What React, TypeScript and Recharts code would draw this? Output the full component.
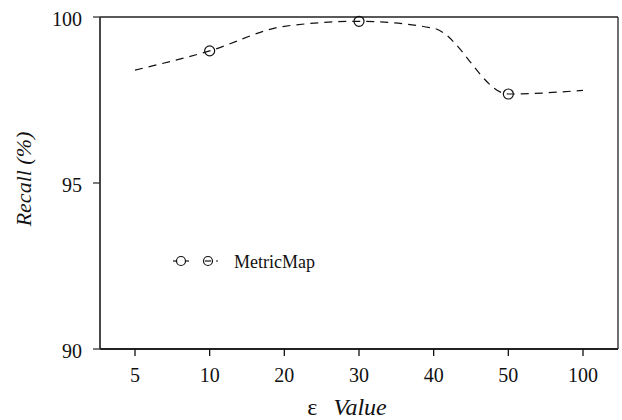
import { LineChart, Line, XAxis, YAxis, Legend, CartesianGrid } from "recharts";

const epsValues = ["5", "10", "20", "30", "40", "50", "100"];
const recallValues = [98.4, 98.98, 99.72, 99.87, 99.66, 97.68, 97.79];
const markedEps = ["10", "30", "50"];
const yTicks = [90, 95, 100];
const seriesName = "MetricMap";

const data = epsValues.map((eps, i) => ({ eps, recall: recallValues[i] }));

const serif = "'Liberation Serif', 'Times New Roman', serif";

const MarkerDot = (props: any) => {
  const { cx, cy, payload, index } = props;
  if (!markedEps.includes(payload.eps)) return <g key={`d${index}`} />;
  return (
    <circle key={`d${index}`} cx={cx} cy={cy} r={5} fill="none" stroke="#111" strokeWidth={1.2} />
  );
};

const LegendBox = () => (
  <svg width={160} height={26} style={{ display: "block" }}>
    <line x1={1} y1={12} x2={17} y2={12} stroke="#111" strokeWidth={1.2} />
    <circle cx={9} cy={12} r={4.5} fill="white" stroke="#111" strokeWidth={1.2} />
    <circle cx={36} cy={12} r={4.5} fill="none" stroke="#111" strokeWidth={1.2} />
    <line x1={33} y1={12} x2={39} y2={12} stroke="#111" strokeWidth={1.2} />
    <line x1={44} y1={12} x2={46} y2={12} stroke="#111" strokeWidth={1.2} />
    <text x={62} y={19} fontFamily={serif} fontSize={18} fill="#111">
      {seriesName}
    </text>
  </svg>
);

const XTick = (props: any) => {
  const { x, payload } = props;
  return (
    <text x={x} y={382} textAnchor="middle" fontFamily={serif} fontSize={20} fill="#111">
      {payload.value}
    </text>
  );
};

const YTick = (props: any) => {
  const { y, payload } = props;
  return (
    <text x={82} y={y + 9} textAnchor="end" fontFamily={serif} fontSize={20} fill="#111">
      {payload.value}
    </text>
  );
};

const XLabel = () => (
  <text x={347} y={415} textAnchor="middle" fontFamily={serif} fontSize={24} fill="#111">
    <tspan>ε</tspan>
    <tspan dx={16} fontStyle="italic">Value</tspan>
  </text>
);

const YLabel = (props: any) => {
  const { viewBox } = props;
  const cy = viewBox.y + viewBox.height / 2 - 4;
  return (
    <text
      x={31}
      y={cy}
      transform={`rotate(-90, 31, ${cy})`}
      textAnchor="middle"
      fontFamily={serif}
      fontSize={22}
      fontStyle="italic"
      fill="#111"
    >
      Recall (%)
    </text>
  );
};

export default function App() {
  return (
    <div style={{ position: "absolute", left: 0, top: 0, background: "#fff" }}>
      <LineChart width={622} height={420} data={data} margin={{ top: 17, right: 4, bottom: 0, left: 0 }}>
        <CartesianGrid
          stroke="#222"
          strokeWidth={1.3}
          horizontalCoordinatesGenerator={({ offset }: any) => [offset.top, offset.top + offset.height]}
          verticalCoordinatesGenerator={({ offset }: any) => [offset.left, offset.left + offset.width]}
        />
        <XAxis
          dataKey="eps"
          height={71}
          padding={{ left: 35, right: 35 }}
          tick={<XTick />}
          tickSize={7}
          stroke="#111"
          strokeWidth={1.3}
          label={<XLabel />}
        />
        <YAxis
          domain={[90, 100]}
          ticks={yTicks}
          width={100}
          tick={<YTick />}
          tickSize={7}
          stroke="#333"
          strokeWidth={1.3}
          label={<YLabel />}
        />
        <Legend
          content={<LegendBox />}
          layout="horizontal"
          verticalAlign="middle"
          align="center"
          wrapperStyle={{ position: "absolute", left: 172, top: 249, width: "auto" }}
        />
        <Line
          type="monotone"
          dataKey="recall"
          name={seriesName}
          stroke="#111"
          strokeWidth={1.2}
          strokeDasharray="8 6"
          dot={<MarkerDot />}
          activeDot={false}
          isAnimationActive={false}
        />
      </LineChart>
    </div>
  );
}
